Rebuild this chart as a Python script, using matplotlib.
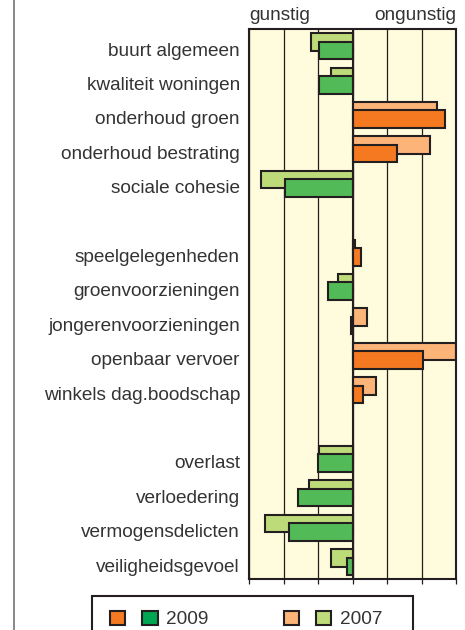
import matplotlib
matplotlib.use('Agg')
import matplotlib.pyplot as plt
import numpy as np
from matplotlib.patches import Patch, Rectangle
from matplotlib.legend_handler import HandlerTuple
from matplotlib.lines import Line2D
from matplotlib.transforms import ScaledTranslation

plt.rcParams['font.family'] = ['Liberation Sans', 'DejaVu Sans']

# ---- data (top to bottom, '' = blank spacer row) ----
categories = ['buurt algemeen', 'kwaliteit woningen', 'onderhoud groen',
              'onderhoud bestrating', 'sociale cohesie', '',
              'speelgelegenheden', 'groenvoorzieningen', 'jongerenvoorzieningen',
              'openbaar vervoer', 'winkels dag.boodschap', '',
              'overlast', 'verloedering', 'vermogensdelicten', 'veiligheidsgevoel']
v2009 = [-0.97, -0.97, 2.68, 1.28, -1.96, np.nan,
         0.24, -0.72, -0.04, 2.05, 0.29, np.nan,
         -1.00, -1.58, -1.83, -0.16]
v2007 = [-1.20, -0.63, 2.44, 2.26, -2.65, np.nan,
         0.06, -0.43, 0.41, 3.00, 0.67, np.nan,
         -0.97, -1.26, -2.53, -0.63]
side_labels = ['gunstig', 'ongunstig']
series_labels = ['2009', '2007']

# ---- styling ----
EDGE = '#231f20'
TXT = '#333333'
FS = 13.7
LW = 1.5
c09_pos, c09_neg = '#F47920', '#52BA57'
c07_pos, c07_neg = '#FDB478', '#BEDB7A'
leg09_neg = '#00A651'

fig = plt.figure(figsize=(4.65, 6.3), dpi=100)
W, H = 465, 630
ax = fig.add_axes([249/W, 1-579.3/H, (456-249)/W, (579.3-29)/H])
ax.set_facecolor('#FFFBDD')

y = np.arange(len(categories))
off = 0.124
h = 0.51
a07 = np.array(v2007)
a09 = np.array(v2009)
col07 = [c07_pos if v >= 0 else c07_neg for v in np.nan_to_num(a07)]
col09 = [c09_pos if v >= 0 else c09_neg for v in np.nan_to_num(a09)]
ax.barh(y - off, a07, height=h, color=col07, edgecolor=EDGE, linewidth=LW, zorder=2)
ax.barh(y + off, a09, height=h, color=col09, edgecolor=EDGE, linewidth=LW, zorder=3)
ax.axvline(0, color=EDGE, lw=1.5, zorder=4)

ax.set_xlim(-3, 3)
ax.set_ylim(len(categories) - 0.5, -0.5)
ax.set_xticks(range(-3, 4))
ax.xaxis.grid(True, color=EDGE, lw=0.9)
ax.set_axisbelow(True)
ax.set_yticks(y)
ax.set_yticklabels(categories)
ax.tick_params(axis='y', length=0, pad=6.5, labelsize=FS, labelcolor=TXT)
ax.tick_params(axis='x', length=3.6, width=0.9, color=EDGE, labelbottom=False)
shift = ScaledTranslation(0, -3/100, fig.dpi_scale_trans)
for lab in ax.get_yticklabels():
    lab.set_transform(lab.get_transform() + shift)
for s in ax.spines.values():
    s.set_linewidth(1.5)
    s.set_color(EDGE)

fig.text(249/W, 1-20/H, side_labels[0], ha='left', va='baseline', fontsize=FS, color=TXT)
fig.text(456/W, 1-20/H, side_labels[1], ha='right', va='baseline', fontsize=FS, color=TXT)

# left grey rule
fig.add_artist(Line2D([14/W, 14/W], [0, 1], color='#7f7f7f', lw=1.3, transform=fig.transFigure))

# legend
handles = [(Patch(fc=c09_pos, ec=EDGE, lw=LW), Patch(fc=leg09_neg, ec=EDGE, lw=LW)),
           (Patch(fc=c07_pos, ec=EDGE, lw=LW), Patch(fc=c07_neg, ec=EDGE, lw=LW))]
fig.legend(handles=handles, labels=series_labels,
           handler_map={tuple: HandlerTuple(ndivide=None, pad=0.9)},
           ncol=2, handlelength=2.5, handleheight=0.8, handletextpad=0.45,
           columnspacing=3.95, frameon=False, loc='center left',
           bbox_to_anchor=(110/W, 1-619.5/H), borderpad=0, borderaxespad=0,
           fontsize=FS, labelcolor=TXT)
fig.add_artist(Rectangle((91.7/W, -0.05), (413-91.7)/W, 0.05 + 1-596/H,
                         transform=fig.transFigure, fill=False, ec=EDGE, lw=1.5))

fig.savefig('out.png', dpi=100, facecolor='white')
